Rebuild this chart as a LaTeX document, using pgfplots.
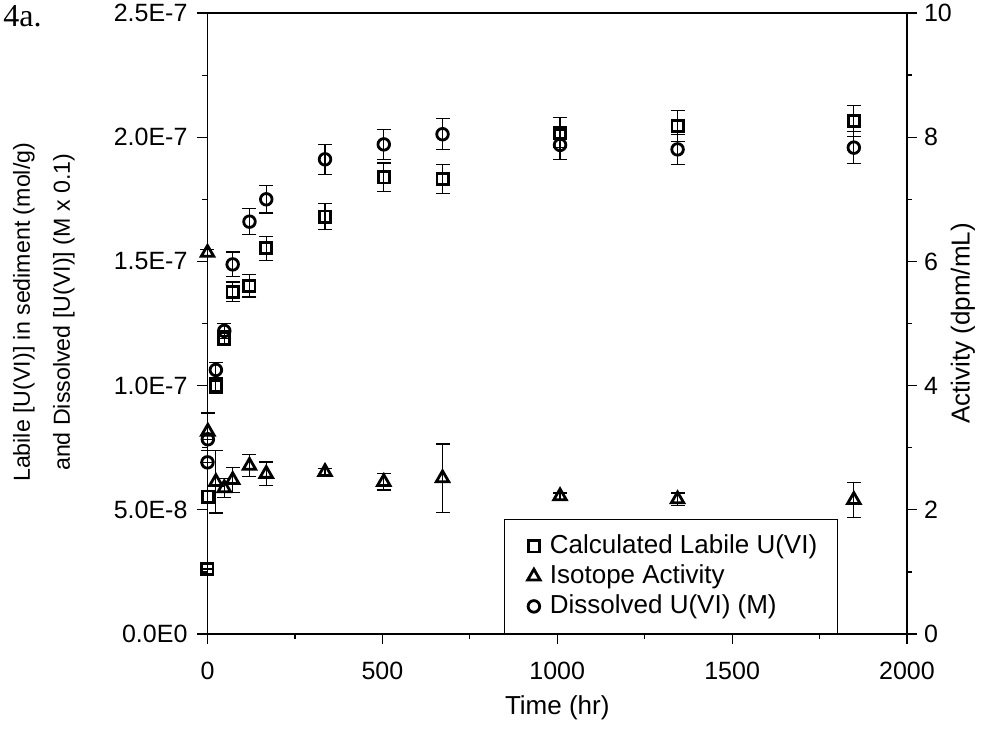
\documentclass[border=0pt]{standalone}
\usepackage{fontspec}
\setmainfont{Liberation Sans}
\newfontfamily\serifont{Liberation Serif}
\usepackage{pgfplots}
\usepackage{pgfplotstable}
\pgfplotsset{compat=1.18}
\newcommand\fs{\fontsize{13}{15.6}\selectfont}
\newcommand\fst{\fontsize{12.5}{15}\selectfont}

\pgfplotstableread{
t v e
0 0.262e-7 0
1 0.553e-7 0.02e-7
24 0.998e-7 0.03e-7
48 1.190e-7 0.03e-7
72 1.377e-7 0.04e-7
120 1.402e-7 0.045e-7
168 1.553e-7 0.048e-7
336 1.680e-7 0.052e-7
504 1.838e-7 0.058e-7
672 1.832e-7 0.058e-7
1008 2.018e-7 0.06e-7
1344 2.045e-7 0.062e-7
1848 2.066e-7 0.062e-7
}\labile

\pgfplotstableread{
t v e
0 0.691e-7 0
1 0.784e-7 0
24 1.063e-7 0.03e-7
48 1.220e-7 0.03e-7
72 1.488e-7 0.05e-7
120 1.660e-7 0.052e-7
168 1.750e-7 0.055e-7
336 1.911e-7 0.06e-7
504 1.971e-7 0.06e-7
672 2.012e-7 0.062e-7
1008 1.969e-7 0.06e-7
1344 1.951e-7 0.06e-7
1848 1.958e-7 0.064e-7
}\dissolved

\pgfplotstableread{
t v e
0 6.14 0.05
1 3.26 0.30
24 2.45 0.50
48 2.35 0.15
72 2.48 0.20
120 2.71 0.18
168 2.58 0.19
336 2.61 0.05
504 2.45 0.13
672 2.51 0.55
1008 2.22 0.05
1344 2.17 0.10
1848 2.16 0.28
}\isotope

\begin{document}
\begin{tikzpicture}
\useasboundingbox (-103.75pt,-47.5pt) rectangle (386.75pt,317pt);
\pgfplotsset{
  base/.style={scale only axis, width=349.75pt, height=310.5pt, at={(0,0)}, anchor=south west,
    xmin=0, xmax=2000, clip=false, tick align=outside,
    major tick length=5pt, minor tick length=2.5pt,
    every tick/.style={black, line width=0.6pt},
    axis line style={line width=0.9pt},
    tick label style={font=\fst}, label style={font=\fs}},
  ebar/.style={error bars/.cd, y dir=both, y explicit,
    error bar style={line width=0.6pt, black},
    error mark options={rotate=90, mark size=3.5pt, line width=0.6pt, black}},
  sq/.style={only marks, black, line width=1.4pt, mark=square, mark size=2.8pt, mark options={fill=white, line width=1.4pt, solid}},
  ci/.style={only marks, black, line width=1.4pt, mark=o, mark size=2.9pt, mark options={fill=white, line width=1.4pt, solid}},
  tr/.style={only marks, black, line width=1.4pt, mark=triangle, mark size=3.6pt, mark options={fill=white, line width=1.4pt, solid}},
  legend image code/.code={\path[draw=none, fill=none] (-6.5pt,0) -- (6pt,0); \draw[#1] plot coordinates {(0pt,0pt)};}
}
\begin{axis}[base, ymin=0, ymax=2.5e-7,
  xtick={0,500,1000,1500,2000}, minor xtick={250,750,1250,1750},
  xticklabels={0,500,1000,1500,2000}, xtick pos=bottom,
  xticklabel style={yshift=-5.5pt},
  ytick={0,5e-8,1e-7,1.5e-7,2e-7,2.5e-7},
  minor ytick={2.5e-8,7.5e-8,1.25e-7,1.75e-7,2.25e-7},
  yticklabels={0.0E0,5.0E-8,1.0E-7,1.5E-7,2.0E-7,2.5E-7}, ytick pos=left,
  yticklabel style={xshift=-1.5pt},
  scaled y ticks=false,
  xlabel={Time (hr)},
  xlabel style={at={(axis description cs:0.5,-0.119)}, anchor=center},
  ylabel={Labile [U(VI)] in sediment (mol/g)\\and Dissolved [U(VI)] (M x 0.1)},
  ylabel style={align=center, font=\fontsize{11.6}{20}\selectfont, at={(axis description cs:-0.234,0.518)}, anchor=center},
]
\addplot[sq, ebar] table[x=t, y=v, y error=e] {\labile};
\addplot[ci, ebar] table[x=t, y=v, y error=e] {\dissolved};
\end{axis}
\begin{axis}[base, ymin=0, ymax=10, hide x axis, axis y line*=right,
  ytick={0,2,4,6,8,10}, minor ytick={1,3,5,7,9},
  yticklabels={0,2,4,6,8,10},
  ylabel={Activity (dpm/mL)},
  ylabel style={at={(axis description cs:1.08,0.5)}, anchor=center},
  legend style={at={(axis description cs:0.4243,0)}, anchor=south west, draw=black, line width=0.6pt, fill=white, font=\fs, inner xsep=8pt, inner ysep=6.5pt, row sep=1pt, nodes={text height=10pt, text depth=3pt, inner ysep=0.5pt}},
  legend cell align=left,
]
\addlegendimage{sq}
\addlegendentry{Calculated Labile U(VI)}
\addplot[tr, ebar] table[x=t, y=v, y error=e] {\isotope};
\addlegendentry{Isotope Activity}
\addlegendimage{ci}
\addlegendentry{Dissolved U(VI) (M)}
\end{axis}
\node[anchor=base west, font=\serifont\fontsize{16}{19}\selectfont, inner sep=0pt] at (-102.25pt,303.5pt) {4a.};
\end{tikzpicture}
\end{document}
